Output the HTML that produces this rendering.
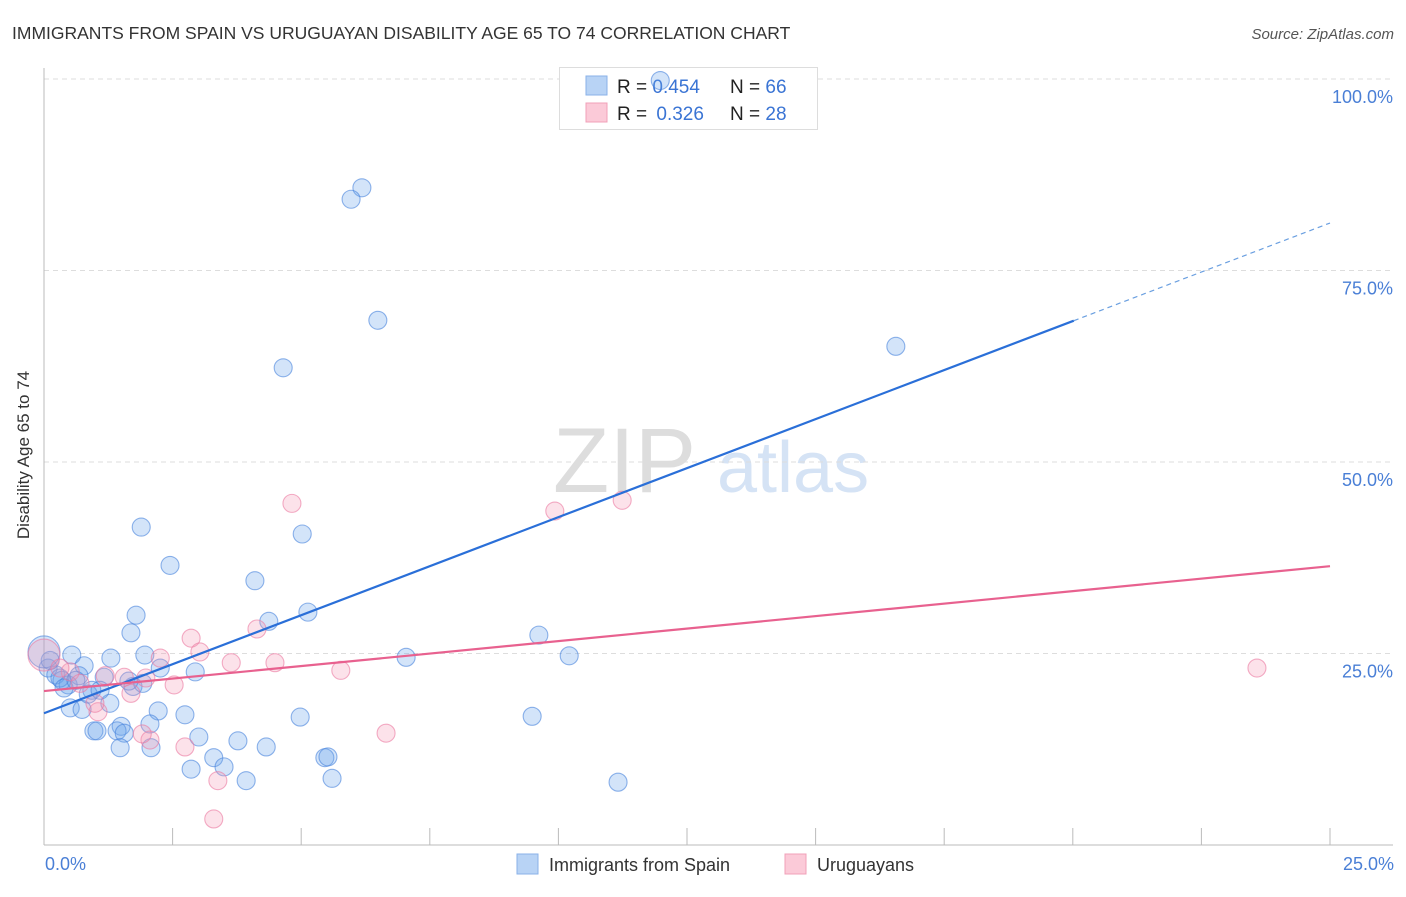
<!DOCTYPE html>
<html><head><meta charset="utf-8"><style>
body{margin:0;background:#fff;font-family:"Liberation Sans",sans-serif;}
svg text{font-family:"Liberation Sans",sans-serif;}
</style></head><body>
<svg id="chart" width="1406" height="892" viewBox="0 0 1406 892">
<text x="12" y="39" font-size="17.5" fill="#333">IMMIGRANTS FROM SPAIN VS URUGUAYAN DISABILITY AGE 65 TO 74 CORRELATION CHART</text>
<text x="1394" y="39" font-size="15" fill="#555" font-style="italic" text-anchor="end">Source: ZipAtlas.com</text>
<g>
<text x="553" y="492" font-size="92" fill="#ddd" font-family="Liberation Serif">ZIP</text>
<text x="717" y="492" font-size="72" fill="#d5e3f5">atlas</text>
</g>
<g id="grid"></g>
<g id="axes"></g>
<g>
<rect x="559.5" y="67.5" width="258" height="62" fill="#fff" stroke="#ddd"/>
<rect x="586" y="76" width="21" height="19" fill="#b8d3f5" stroke="#8ab2e8"/>
<rect x="586" y="103" width="21" height="19" fill="#fbcad8" stroke="#f0a0b8"/>
<text x="617" y="93" font-size="19" fill="#222">R = <tspan fill="#3a74d4">0.454</tspan><tspan x="730">N = </tspan><tspan fill="#3a74d4">66</tspan></text>
<text x="617" y="120" font-size="19" fill="#222">R = <tspan fill="#3a74d4" dx="4">0.326</tspan><tspan x="730">N = </tspan><tspan fill="#3a74d4">28</tspan></text>
</g>
<g id="pts"></g>
<g id="lines"></g>
<text x="29" y="455" font-size="17" fill="#333" text-anchor="middle" transform="rotate(-90 29 455)">Disability Age 65 to 74</text>
<text x="45" y="870" font-size="18" fill="#4a7fd6">0.0%</text>
<text x="1394" y="870" font-size="18" fill="#4a7fd6" text-anchor="end">25.0%</text>
<g>
<rect x="517" y="854" width="21" height="20" fill="#b8d3f5" stroke="#8ab2e8"/>
<text x="549" y="871" font-size="18" fill="#333">Immigrants from Spain</text>
<rect x="785" y="854" width="21" height="20" fill="#fbcad8" stroke="#f0a0b8"/>
<text x="817" y="871" font-size="18" fill="#333">Uruguayans</text>
</g>
</svg>
<script>
const blueX=[11.98,6.18,5.97,6.49,16.56,4.65,1.89,5.02,2.45,4.10,1.79,5.13,4.37,1.69,9.62,10.21,7.04,1.96,0.54,1.30,0.78,2.26,2.94,0.08,0.23,0.35,0.47,0.68,1.73,1.92,1.17,0.93,1.28,0.51,0.74,1.65,2.22,2.74,4.98,9.49,1.50,2.06,0.97,1.03,1.42,1.56,3.01,3.77,4.32,1.48,2.08,3.30,5.46,5.52,2.86,3.50,3.93,5.60,11.16,0.12,0,0.31,0.39,0.86,0.62,1.09];
const blueY=[99.8,85.8,84.3,68.5,65.1,62.3,41.5,40.6,36.5,34.5,30.0,30.4,29.2,27.7,27.4,24.7,24.5,24.8,24.8,24.4,23.4,23.1,22.6,23.1,22.2,21.5,20.9,22.1,20.7,21.1,21.9,20.2,18.5,17.9,17.7,21.4,17.5,17.0,16.7,16.8,15.5,15.8,14.9,14.9,14.9,14.6,14.1,13.6,12.8,12.7,12.7,11.4,11.4,11.5,9.9,10.2,8.4,8.7,8.2,24.1,25.2,21.8,20.5,19.7,21.5,20.2];
const pinkX=[0,4.82,9.93,11.24,2.86,4.14,2.26,3.03,3.64,4.49,5.77,2.53,23.58,0.51,1.19,1.56,1.98,1.69,1.05,0.99,2.06,2.74,1.91,6.65,3.38,3.30,0.70,0.31];
const pinkY=[24.8,44.6,43.6,45.0,27.0,28.2,24.4,25.2,23.8,23.8,22.8,20.9,23.1,22.6,22.1,21.9,21.8,19.8,17.4,18.5,13.7,12.8,14.5,14.6,8.4,3.4,21.1,23.1];
const blueTrend=[17.2,2.56];
const pinkTrend=[20.1,0.652];
const yTicks=[25,50,75,100];
const xTicks=[0,2.5,5,7.5,10,12.5,15,17.5,20,22.5,25];
const NS='http://www.w3.org/2000/svg';
const sx=v=>44+v/25*1286, sy=v=>845-v/100*766;
function mk(t,a,p){const e=document.createElementNS(NS,t);for(const k in a)e.setAttribute(k,a[k]);p.appendChild(e);return e;}
const grid=document.getElementById('grid'),axes=document.getElementById('axes'),pts=document.getElementById('pts'),lines=document.getElementById('lines');
yTicks.forEach(t=>{
 const l=mk('line',{x1:44,x2:1393,y1:sy(t),y2:sy(t),stroke:'#ddd','stroke-dasharray':'5,4'},grid);
 
 
 const tx=mk('text',{x:1393,y:sy(t)+24,'font-size':18,fill:'#4a7fd6','text-anchor':'end'},grid);
 tx.textContent=t.toFixed(1)+'%';
 
 
});
const xl=mk('line',{x1:44,x2:1393,y1:845,y2:845,stroke:'#bbb'},axes);


const yl=mk('line',{x1:44,x2:44,y1:68,y2:845,stroke:'#bbb'},axes);


xTicks.slice(1).forEach(t=>{
 const l=mk('line',{x1:sx(t),x2:sx(t),y1:828,y2:845,stroke:'#bbb'},axes);
 
 
});
function dots(X,Y,fill,stroke,name){X.forEach((x,i)=>{
 const r=(x===0&&Math.abs(Y[i]-25)<0.5)?16:9;
 const c=mk('circle',{cx:sx(x),cy:sy(Y[i]),r:r,fill:fill,stroke:stroke,'stroke-width':1.1},pts);
 
 
});}
dots(blueX,blueY,'rgba(110,165,235,0.3)','rgba(70,130,220,0.6)','point-immigrants-spain');
dots(pinkX,pinkY,'rgba(245,150,180,0.28)','rgba(235,120,160,0.6)','point-uruguayans');
const bEnd=20.02;
const b1=mk('line',{x1:sx(0),y1:sy(blueTrend[0]),x2:sx(bEnd),y2:sy(blueTrend[0]+blueTrend[1]*bEnd),stroke:'#2a6fd8','stroke-width':2.2},lines);


const b2=mk('line',{x1:sx(bEnd),y1:sy(blueTrend[0]+blueTrend[1]*bEnd),x2:sx(25),y2:sy(blueTrend[0]+blueTrend[1]*25),stroke:'#6a9fe0','stroke-width':1.2,'stroke-dasharray':'5,4'},lines);


const p1=mk('line',{x1:sx(0),y1:sy(pinkTrend[0]),x2:sx(25),y2:sy(pinkTrend[0]+pinkTrend[1]*25),stroke:'#e8618f','stroke-width':2.2},lines);


</script>
</body></html>
